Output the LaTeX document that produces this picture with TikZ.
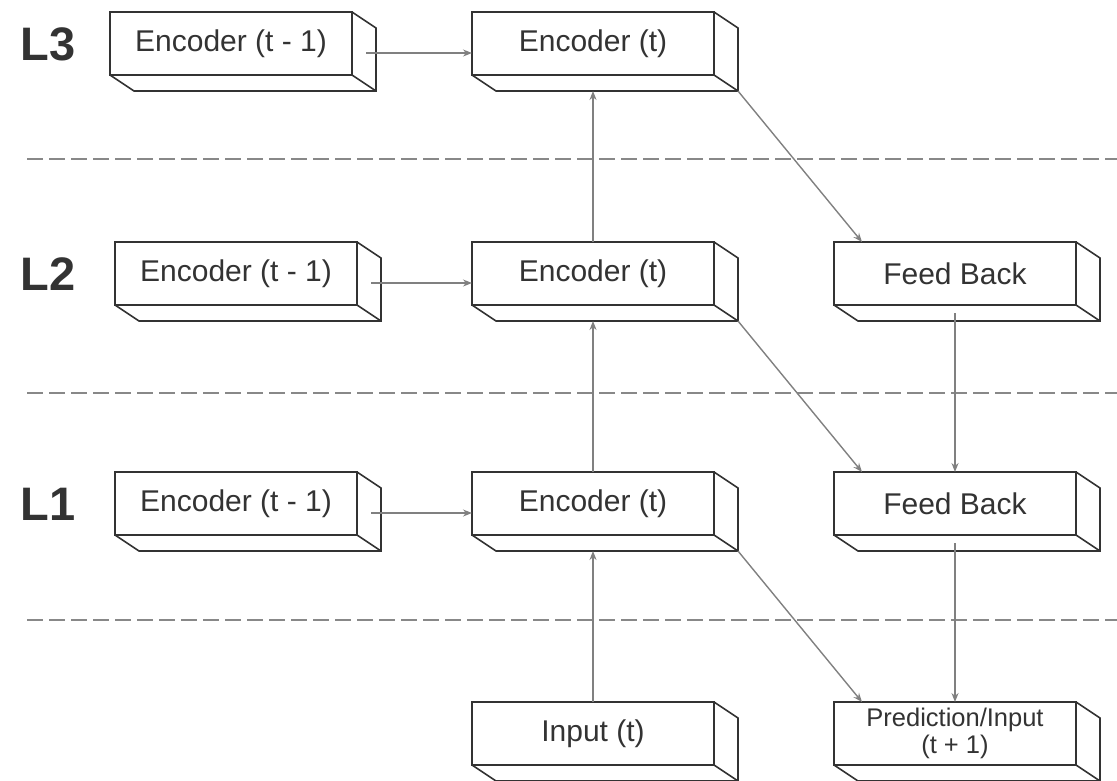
\documentclass[tikz,border=0pt]{standalone}
\usepackage{fontspec}
\setmainfont{Liberation Sans}
\usetikzlibrary{calc,arrows.meta}

\definecolor{inkdark}{HTML}{333333}
\definecolor{wire}{HTML}{808080}
\definecolor{guide}{HTML}{888888}

\tikzset{
  x=1pt, y=-1pt,
  front/.style={draw=inkdark, fill=white, line width=1.6pt, rectangle,
    minimum width=242pt, minimum height=63pt, inner sep=0pt, outer sep=0pt,
    anchor=north west, text=inkdark, font=\fontsize{30}{36}\selectfont},
  small/.style={font=\fontsize{25.5}{27}\selectfont, align=center},
  edge/.style={draw=inkdark, line width=1.6pt},
  link/.style={draw=wire, line width=1.4pt, -{Stealth[length=9pt,width=7pt]}},
  layer/.style={anchor=west, text=inkdark, font=\fontsize{47}{56}\selectfont\bfseries},
  sep/.style={draw=guide, line width=2.4pt, dash pattern=on 16pt off 6pt},
}

% extruded sides of a block: right face and bottom face
\newcommand{\extrude}[1]{%
  \draw[edge] (#1.north east) -- ++(24,16) |- ($(#1.south west)+(24,16)$) -- (#1.south west);
  \draw[edge] (#1.south east) -- ++(24,16);
  \coordinate (#1-bot) at ($(#1.south)+(0,16)$);
  \coordinate (#1-corner) at ($(#1.south east)+(24,16)$);
}

\begin{document}
\begin{tikzpicture}
\useasboundingbox (0,0) rectangle (1117,780);

% layer separators
\coordinate (s1a) at (27,159);  \coordinate (s1b) at (1117,159);
\coordinate (s2a) at (27,393);  \coordinate (s2b) at (1117,393);
\coordinate (s3a) at (27,620);  \coordinate (s3b) at (1117,620);
\draw[sep] (s1a) -- (s1b);
\draw[sep] (s2a) -- (s2b);
\draw[sep] (s3a) -- (s3b);

% layer labels
\node[layer] (l3) at (17,44) {L3};
\node[layer] (l2) at (17,274) {L2};
\node[layer] (l1) at (17,504) {L1};

% level 3
\node[front] (p3) at (110,12) {Encoder (t - 1)};
\node[front] (c3) at (472,12) {Encoder (t)};
% level 2
\node[front] (p2) at (115,242) {Encoder (t - 1)};
\node[front] (c2) at (472,242) {Encoder (t)};
\node[front] (f2) at (834,242) {Feed Back};
% level 1
\node[front] (p1) at (115,472) {Encoder (t - 1)};
\node[front] (c1) at (472,472) {Encoder (t)};
\node[front] (f1) at (834,472) {Feed Back};
% input / output
\node[front] (in) at (472,702) {Input (t)};
\node[front, small] (out) at (834,702) {Prediction/Input\\(t + 1)};

\foreach \n in {p3,c3,p2,c2,f2,p1,c1,f1,in,out} {\extrude{\n}}

% temporal links
\foreach \a/\b in {p3/c3,p2/c2,p1/c1} {
  \coordinate (\a-out) at ($(\a.east)+(14,9.5)$);
  \draw[link] (\a-out) -- (\b.west |- \a-out);
}

% bottom-up links
\draw[link] (in.north) -- (c1-bot);
\draw[link] (c1.north) -- (c2-bot);
\draw[link] (c2.north) -- (c3-bot);

% predictions into the feedback column
\draw[link] (c3-corner) -- ($(f2.north west)+(28,0)$);
\draw[link] (c2-corner) -- ($(f1.north west)+(28,0)$);
\draw[link] (c1-corner) -- ($(out.north west)+(28,0)$);

% top-down feedback
\draw[link] ($(f2.south)+(0,8)$) -- (f1.north);
\draw[link] ($(f1.south)+(0,8)$) -- (out.north);
\end{tikzpicture}
\end{document}
